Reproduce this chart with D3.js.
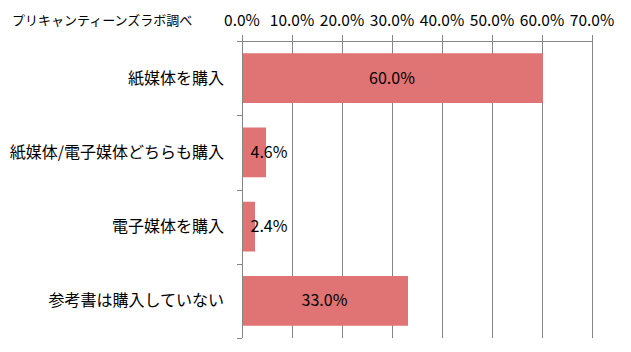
<!DOCTYPE html>
<html>
<head>
<meta charset="utf-8">
<script src="https://cdn.jsdelivr.net/npm/d3@7"></script>
<style>
body { margin: 0; background: #fff; }
text { font-family: "Noto Sans CJK JP", "Noto Sans", sans-serif; fill: #000; }
</style>
</head>
<body>
<div id="chart"></div>
<script>
var width = 631;
var height = 352;

var COLOR_BAR = '#e07373';
var COLOR_GRID = '#868686';

var categories = ['紙媒体を購入', '紙媒体/電子媒体どちらも購入', '電子媒体を購入', '参考書は購入していない'];
var values = [60.0, 4.6, 2.4, 33.0];
var ticks = [0, 10, 20, 30, 40, 50, 60, 70];
var source = 'プリキャンティーンズラボ調べ';

var plotLeft = 242, plotRight = 592, plotTop = 41, plotBottom = 338;

var svg = d3.select('#chart')
    .append('svg')
    .attr('width', width)
    .attr('height', height)

var x = d3.scaleLinear()
    .domain([0, 70])
    .range([plotLeft, plotRight])

var y = d3.scaleBand()
    .domain(categories)
    .range([plotTop, plotBottom])
    .paddingInner(0.33)
    .paddingOuter(0.165)

// source note
svg.append('text')
    .text(source)
    .attr('x', 12)
    .attr('y', 25)
    .style('font-size', '13px')

// gridlines + top axis
svg.selectAll('.grid')
    .data(ticks)
    .enter().append('line')
    .attr('x1', function (d) { return Math.round(x(d)) + 0.5 })
    .attr('x2', function (d) { return Math.round(x(d)) + 0.5 })
    .attr('y1', plotTop - 6)
    .attr('y2', plotBottom)
    .attr('stroke', COLOR_GRID)
    .attr('stroke-width', 1)

svg.append('line')
    .attr('x1', plotLeft - 1)
    .attr('x2', plotRight + 1)
    .attr('y1', plotTop + 0.5)
    .attr('y2', plotTop + 0.5)
    .attr('stroke', COLOR_GRID)

svg.selectAll('.tickLabel')
    .data(ticks)
    .enter().append('text')
    .text(function (d) { return d.toFixed(1) + '%' })
    .attr('x', function (d) { return x(d) })
    .attr('y', 26)
    .attr('text-anchor', 'middle')
    .style('font-size', '15.5px')

// category ticks on left axis
var step = (plotBottom - plotTop) / categories.length;
svg.selectAll('.catTick')
    .data(d3.range(categories.length + 1))
    .enter().append('line')
    .attr('x1', plotLeft - 5)
    .attr('x2', plotLeft)
    .attr('y1', function (i) { return Math.round(plotTop + i * step) + 0.5 })
    .attr('y2', function (i) { return Math.round(plotTop + i * step) + 0.5 })
    .attr('stroke', COLOR_GRID)

// bars
svg.selectAll('.bar')
    .data(values)
    .enter().append('rect')
    .attr('x', x(0) + 1)
    .attr('y', function (d, i) { return y(categories[i]) })
    .attr('width', function (d) { return x(d) - x(0) })
    .attr('height', y.bandwidth())
    .style('fill', COLOR_BAR)

// category labels
svg.selectAll('.catLabel')
    .data(categories)
    .enter().append('text')
    .text(function (d) { return d })
    .attr('x', 224)
    .attr('y', function (d) { return y(d) + y.bandwidth() / 2 })
    .attr('dy', '0.35em')
    .attr('text-anchor', 'end')
    .style('font-size', '16px')

// value labels
svg.selectAll('.valLabel')
    .data(values)
    .enter().append('text')
    .text(function (d) { return d.toFixed(1) + '%' })
    .attr('x', function (d) { return Math.max((x(0) + x(d)) / 2, x(0) + 27) })
    .attr('y', function (d, i) { return y(categories[i]) + y.bandwidth() / 2 })
    .attr('dy', '0.35em')
    .attr('text-anchor', 'middle')
    .style('font-size', '16px')
</script>
</body>
</html>
